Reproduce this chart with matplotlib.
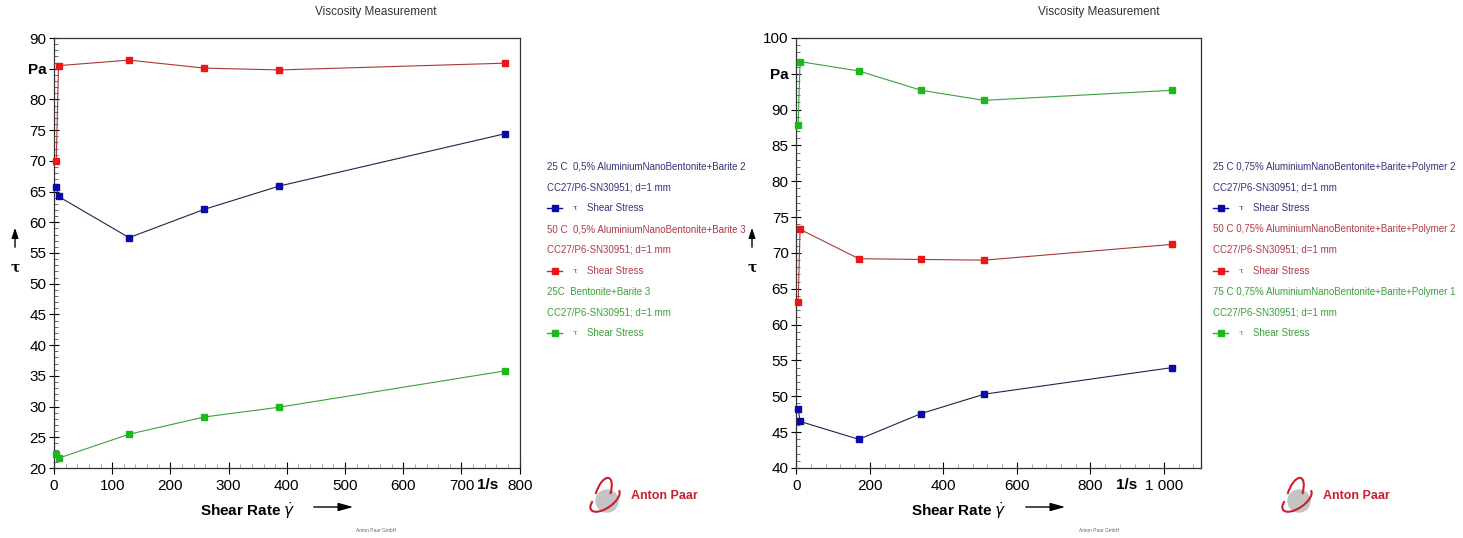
import matplotlib.pyplot as plt
from matplotlib.lines import Line2D
from matplotlib.patches import Circle, Arc
from matplotlib.ticker import MultipleLocator

plt.rcParams['font.family'] = ['Liberation Sans', 'DejaVu Sans']

# left chart: 0,5% samples
rate_l = [3.87, 7.74, 129, 258, 387, 774]
blue_l = [65.8, 64.2, 57.5, 62.1, 65.9, 74.4]
red_l = [70.0, 85.5, 86.4, 85.1, 84.8, 85.9]
green_l = [22.2, 21.6, 25.5, 28.3, 29.9, 35.8]
names_l = ["25 C  0,5% AluminiumNanoBentonite+Barite 2",
           "50 C  0,5% AluminiumNanoBentonite+Barite 3",
           "25C  Bentonite+Barite 3"]

# right chart: 0,75% samples with polymer
rate_r = [5.1, 10.2, 170, 340, 511, 1021]
blue_r = [48.3, 46.5, 44.0, 47.6, 50.3, 54.0]
red_r = [63.1, 73.3, 69.2, 69.1, 69.0, 71.2]
green_r = [87.9, 96.7, 95.4, 92.7, 91.3, 92.7]
names_r = ["25 C 0,75% AluminiumNanoBentonite+Barite+Polymer 2",
           "50 C 0,75% AluminiumNanoBentonite+Barite+Polymer 2",
           "75 C 0,75% AluminiumNanoBentonite+Barite+Polymer 1"]

system = "CC27/P6-SN30951; d=1 mm"

# marker colour, line colour, text colour
styles = [("#0a0aa8", "#22224a", "#34347a"),
          ("#e81818", "#a83838", "#b03a4a"),
          ("#1cb81c", "#3ca03c", "#3aa03a")]

W, H = 1463, 538
fig = plt.figure(figsize=(W / 100, H / 100), dpi=100, facecolor='w')


def fx(px):
    return px / W


def fy(py):
    return 1 - py / H


def make_axes(x0, x1, xmax, xstep, xminor, ymin, ymax, pa, xlabels):
    ax = fig.add_axes([fx(x0), fy(468), fx(x1 - x0), fy(38) - fy(468)])
    ax.set_xlim(0, xmax)
    ax.set_ylim(ymin, ymax)
    xt = list(range(0, xlabels[-1][0] + 1, xstep))
    ax.set_xticks(xt)
    ax.set_xticklabels([dict(xlabels).get(v, str(v)) for v in xt])
    yt = list(range(ymin, ymax + 1, 5))
    ax.set_yticks(yt)
    ax.set_yticklabels(["Pa" if v == pa else str(v) for v in yt])
    for lab in ax.get_yticklabels():
        if lab.get_text() == "Pa":
            lab.set_fontweight('bold')
    ax.xaxis.set_minor_locator(MultipleLocator(xminor))
    ax.yaxis.set_minor_locator(MultipleLocator(1))
    ax.tick_params(axis='x', which='major', direction='inout', length=8, width=0.8, labelsize=11, pad=4)
    ax.tick_params(axis='x', which='minor', direction='in', length=3, color='#999999')
    ax.tick_params(axis='y', which='major', direction='inout', length=7, width=0.8, labelsize=11, pad=2)
    ax.tick_params(axis='y', which='minor', direction='in', length=3, color='#555555')
    for s in ax.spines.values():
        s.set_color('#333333')
        s.set_linewidth(0.9)
    return ax


def draw_series(ax, rate, series):
    for vals, (mc, lc, tc) in zip(series, styles):
        ax.plot(rate, vals, color=lc, lw=0.8, zorder=2)
        ax.plot(rate, vals, ls='none', marker='s', ms=5, mfc=mc, mec=mc, zorder=3, clip_on=False)


def legend_block(x0, names):
    y = 166.7
    for name, (mc, lc, tc) in zip(names, styles):
        fig.text(fx(x0), fy(y), name, fontsize=7, color=tc, va='center')
        y += 20.8
        fig.text(fx(x0), fy(y), system, fontsize=7, color=tc, va='center')
        y += 20.8
        fig.add_artist(Line2D([fx(x0), fx(x0 + 15)], [fy(y), fy(y)], color=mc, lw=1))
        fig.add_artist(Line2D([fx(x0 + 7.5)], [fy(y)], marker='s', ms=4.5, color=mc, ls='none'))
        fig.text(fx(x0 + 26), fy(y), "τ", fontsize=6, color=tc, va='center', family='DejaVu Serif')
        fig.text(fx(x0 + 40), fy(y), "Shear Stress", fontsize=7, color=tc, va='center')
        y += 20.8


def decorations(title_x, tau_x, unit_px, lab_x, arr_x0, arr_x1, logo_x):
    fig.text(fx(title_x), fy(12), "Viscosity Measurement", fontsize=8.5, color='#333333',
             ha='center', va='center')
    # y axis label with arrow
    fig.add_artist(plt.Annotation("", xy=(fx(tau_x), fy(225)), xytext=(fx(tau_x), fy(250)),
                                  xycoords='figure fraction',
                                  arrowprops=dict(arrowstyle='-|>,head_length=0.6,head_width=0.2',
                                                  color='k', lw=1)))
    fig.text(fx(tau_x), fy(268), "τ", fontsize=10, family='DejaVu Serif', weight='bold',
             ha='center', va='center')
    # x axis unit and label
    fig.text(fx(unit_px), fy(485), "1/s", fontsize=11, weight='bold', ha='center', va='center')
    fig.text(fx(lab_x), fy(511), r"Shear Rate $\dot{\gamma}$", fontsize=11, weight='bold',
             ha='center', va='center')
    fig.add_artist(plt.Annotation("", xy=(fx(arr_x1), fy(507)), xytext=(fx(arr_x0), fy(507)),
                                  xycoords='figure fraction',
                                  arrowprops=dict(arrowstyle='-|>,head_length=0.9,head_width=0.25',
                                                  color='k', lw=1)))
    fig.text(fx(title_x), fy(531), "Anton Paar GmbH", fontsize=3.5, color='#666666',
             ha='center', va='center')
    # logo
    lax = fig.add_axes([fx(logo_x - 20), fy(520), fx(40), fy(476) - fy(520)])
    lax.set_xlim(-20, 20)
    lax.set_ylim(-22, 22)
    lax.axis('off')
    lax.add_patch(Circle((2, -3), 11, color='#c4c4c4'))
    lax.add_patch(Arc((0, -2), 34, 16, angle=35, theta1=150, theta2=360, color='#c8202e', lw=1.5))
    lax.add_patch(Arc((-2, 4), 14, 34, angle=-20, theta1=20, theta2=200, color='#c8202e', lw=1.5))
    fig.text(fx(logo_x + 26), fy(496), "Anton Paar", fontsize=9, weight='bold', color='#c8202e',
             va='center')


ax1 = make_axes(54, 519.7, 800, 100, 20, 20, 90, 85, [(0, "0"), (700, "700"), (800, "800")])
draw_series(ax1, rate_l, [blue_l, red_l, green_l])
legend_block(547, names_l)
decorations(376, 15, 488, 248, 311, 356, 605)

ax2 = make_axes(796.3, 1200.7, 1100, 200, 40, 40, 100, 95, [(0, "0"), (1000, "1 000")])
draw_series(ax2, rate_r, [blue_r, red_r, green_r])
legend_block(1213, names_r)
decorations(1099, 752, 1127, 959, 1023, 1068, 1297)

fig.savefig("out.png", dpi=100, facecolor='w')
